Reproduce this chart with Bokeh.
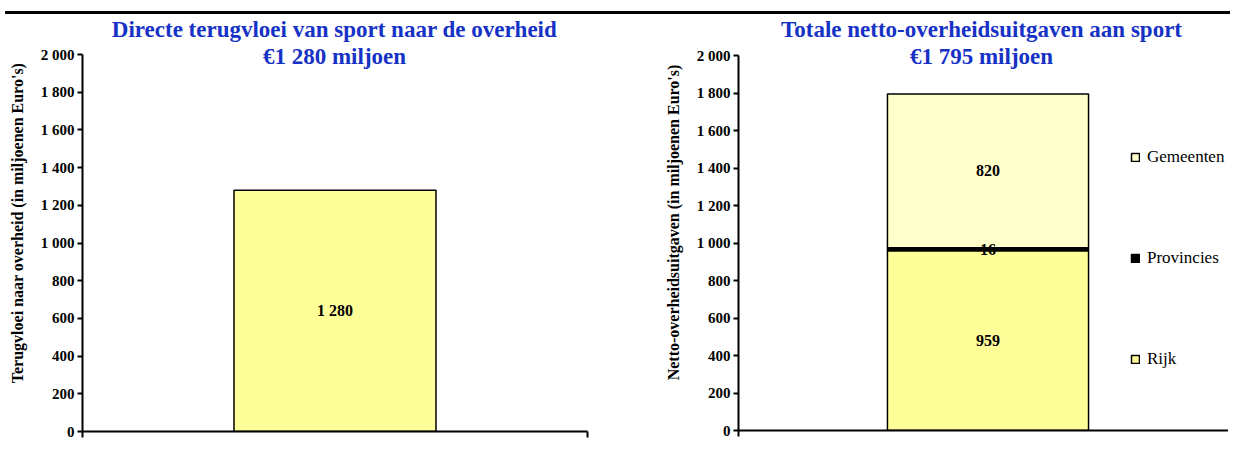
import numpy as np
from bokeh.plotting import figure
from bokeh.models import (Range1d, FixedTicker, Label, Legend, LegendItem,
                          ColumnDataSource, Div)
from bokeh.layouts import row, column
from bokeh.core.properties import value
from bokeh.embed import file_html
from bokeh.resources import INLINE

# ---------------- data ----------------
left_title = "Directe terugvloei van sport naar de overheid"
left_category = ["Terugvloei"]
left_values = [1280]
left_ylabel = "Terugvloei naar overheid (in miljoenen Euro's)"

right_title = "Totale netto-overheidsuitgaven aan sport"
right_category = ["Uitgaven"]
series_names = ["Rijk", "Provincies", "Gemeenten"]
series_values = [959, 16, 820]
right_ylabel = "Netto-overheidsuitgaven (in miljoenen Euro's)"

y_max = 2000
y_ticks = [0, 200, 400, 600, 800, 1000, 1200, 1400, 1600, 1800, 2000]
y_tick_labels = ["0", "200", "400", "600", "800", "1 000", "1 200", "1 400",
                 "1 600", "1 800", "2 000"]

# ---------------- styles ----------------
FONT = "Liberation Serif"
BLUE = "#1632C6"
series_colors = ["#FFFF99", "#000000", "#FFFFCC"]
TOP = 14  # height taken by the rule above the charts


def fmt(v):
    return f"{v:,}".replace(",", " ")


def cat_pos(cats):
    # centre of each category slot on a 0..n axis
    return [i + 0.5 for i in range(len(cats))]


def base_fig(cats, frame_w, bl, br, axis_top, axis_bottom, bb, x_end_frac, ylabel):
    # frame runs from TOP down to axis_bottom (page px); y_max sits at axis_top
    n = len(cats)
    frame_h = axis_bottom - TOP
    plot_h = axis_bottom - axis_top
    p = figure(x_range=Range1d(0, n * x_end_frac),
               y_range=Range1d(0, y_max * frame_h / plot_h),
               frame_width=frame_w, frame_height=frame_h,
               min_border_left=bl, min_border_top=0,
               min_border_right=br, min_border_bottom=bb,
               output_backend="svg", toolbar_location=None)
    p.grid.visible = False
    p.outline_line_color = None
    p.background_fill_color = "white"
    p.border_fill_color = "white"

    ax = p.yaxis[0]
    ax.bounds = (0, y_max)
    ax.ticker = FixedTicker(ticks=y_ticks)
    ax.major_label_overrides = {t: l for t, l in zip(y_ticks, y_tick_labels)}
    ax.axis_line_width = 2
    ax.major_tick_line_width = 2
    ax.major_tick_out = 5
    ax.major_tick_in = 0
    ax.minor_tick_out = 0
    ax.minor_tick_in = 0
    ax.major_label_standoff = 3
    ax.major_label_text_font = FONT
    ax.major_label_text_font_size = "15px"
    ax.major_label_text_font_style = "bold"
    ax.major_label_text_color = "black"
    ax.axis_label = ylabel
    ax.axis_label_text_font = FONT
    ax.axis_label_text_font_size = "16px"
    ax.axis_label_text_font_style = "bold"
    ax.axis_label_text_color = "black"
    ax.axis_label_standoff = 12

    xa = p.xaxis[0]
    xa.ticker = FixedTicker(ticks=list(range(n + 1)))
    xa.axis_line_width = 2
    xa.major_tick_line_width = 2
    xa.major_tick_out = 6
    xa.major_tick_in = 0
    xa.minor_tick_out = 0
    xa.minor_tick_in = 0
    xa.major_label_standoff = 0
    xa.major_label_text_font_size = "2px"
    xa.major_label_text_color = None
    return p


def add_title(p, text1, text2, cx, y1, y2):
    for t, y in ((text1, y1), (text2, y2)):
        p.add_layout(Label(x=cx, y=y, x_units="screen", y_units="screen", text=t,
                           text_align="center", text_baseline="middle",
                           text_font=FONT, text_font_size="23px",
                           text_font_style="bold", text_color=BLUE))


# ---------------- left chart ----------------
p1 = base_fig(left_category, 505, 82, 33, 54, 431, 14, 1.0, left_ylabel)
src1 = ColumnDataSource(dict(x=cat_pos(left_category), val=left_values,
                             mid=[v / 2 for v in left_values],
                             lab=[fmt(v) for v in left_values]))
p1.vbar(x="x", top="val", width=0.4, source=src1, fill_color="#FFFF99",
        line_color="black", line_width=1.5)
p1.text(x="x", y="mid", text="lab", source=src1, text_align="center",
        text_baseline="middle", text_font=value(FONT), text_font_size="16px",
        text_font_style="bold", text_color="black")
add_title(p1, left_title, f"€{fmt(sum(left_values))} miljoen", 252, 402, 375)

# ---------------- right chart ----------------
p2 = base_fig(right_category, 490, 118, 0, 55, 430, 15, 0.982, right_ylabel)
data2 = {"x": cat_pos(right_category)}
for nme, v in zip(series_names, series_values):
    data2[nme] = [v]
src2 = ColumnDataSource(data2)
rs = p2.vbar_stack(series_names, x="x", width=0.403, source=src2,
                   color=series_colors, line_color="black", line_width=1.5)
for r in rs:
    r.glyph.line_color = "black"
cum = np.cumsum(series_values)
mids = cum - np.array(series_values) / 2
src2l = ColumnDataSource(dict(x=cat_pos(right_category) * len(series_values),
                              mid=list(mids),
                              lab=[fmt(v) for v in series_values]))
p2.text(x="x", y="mid", text="lab", source=src2l, text_align="center",
        text_baseline="middle", text_font=value(FONT), text_font_size="16px",
        text_font_style="bold", text_color="black")
add_title(p2, right_title, f"€{fmt(sum(series_values))} miljoen", 243, 401, 374)

items = [LegendItem(label=nme, renderers=[r]) for nme, r in zip(series_names, rs)][::-1]
legend = Legend(items=items, location=(392, 61), orientation="vertical",
                spacing=81, glyph_width=10, glyph_height=10, label_height=14,
                label_standoff=7, label_text_font=FONT,
                label_text_font_size="17px", label_text_color="black",
                padding=0, margin=0, border_line_alpha=0,
                background_fill_alpha=0)
p2.add_layout(legend)

rule = Div(text="", width=1225, height=3, margin=(11, 0, 0, 5),
           styles={"background-color": "black"})

layout = column(rule, row(p1, p2, spacing=0), spacing=0)
open("out.html", "w").write(file_html(layout, INLINE))
